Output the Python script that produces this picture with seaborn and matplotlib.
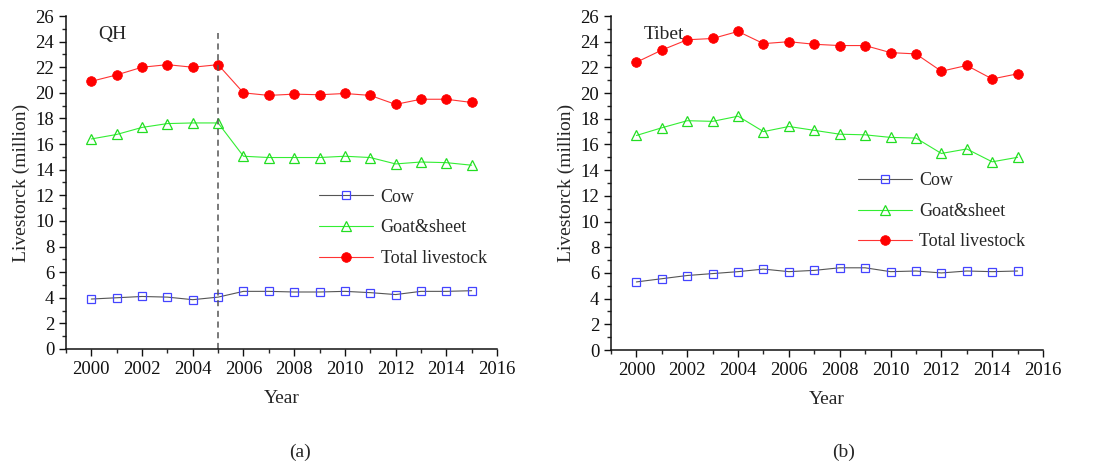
import matplotlib
matplotlib.use("Agg")
import matplotlib.pyplot as plt
import seaborn as sns
import numpy as np
from matplotlib.ticker import MultipleLocator

years = list(range(2000, 2016))

qh_cow = [3.9, 4.0, 4.1, 4.05, 3.85, 4.05, 4.5, 4.5, 4.45, 4.45, 4.5, 4.4, 4.25, 4.5, 4.5, 4.55]
qh_goat = [16.4, 16.75, 17.3, 17.6, 17.65, 17.65, 15.05, 14.95, 14.95, 14.95, 15.05, 14.95, 14.45, 14.6, 14.55, 14.35]
qh_total = [20.9, 21.4, 22.0, 22.2, 22.0, 22.2, 20.0, 19.8, 19.9, 19.85, 19.95, 19.8, 19.1, 19.5, 19.5, 19.25]

tb_cow = [5.3, 5.55, 5.8, 5.95, 6.1, 6.3, 6.1, 6.2, 6.4, 6.4, 6.1, 6.15, 6.0, 6.15, 6.1, 6.15]
tb_goat = [16.7, 17.3, 17.85, 17.8, 18.2, 17.0, 17.4, 17.1, 16.8, 16.75, 16.55, 16.5, 15.3, 15.65, 14.65, 15.0]
tb_total = [22.4, 23.35, 24.15, 24.25, 24.8, 23.85, 24.0, 23.8, 23.7, 23.7, 23.15, 23.05, 21.7, 22.15, 21.1, 21.5]

series_names = ["Cow", "Goat&sheet", "Total livestock"]
panel_titles = ["QH", "Tibet"]
panel_labels = ["(a)", "(b)"]
break_year = 2005

sns.set_style("ticks")
plt.rcParams['font.family'] = ['Liberation Serif', 'DejaVu Serif']

fig = plt.figure(figsize=(10.94, 4.68), dpi=100)
ax1 = fig.add_axes([0.0603, 0.2543, 0.394, 0.7115])
ax2 = fig.add_axes([0.5585, 0.2521, 0.3949, 0.7137])

def draw(ax, cow, goat, total, title, legend_anchor):
    sns.lineplot(x=years, y=cow, ax=ax, color="#555555", lw=0.8, marker="s",
                 markersize=5.5, markerfacecolor="none", markeredgecolor="#4444ff",
                 markeredgewidth=0.9, label=series_names[0])
    sns.lineplot(x=years, y=goat, ax=ax, color="#33ee33", lw=0.8, marker="^",
                 markersize=7.5, markerfacecolor="none", markeredgecolor="#22dd22",
                 markeredgewidth=0.9, label=series_names[1])
    sns.lineplot(x=years, y=total, ax=ax, color="#ff3333", lw=0.8, marker="o",
                 markersize=7, markerfacecolor="#ff0000", markeredgecolor="#ff0000",
                 markeredgewidth=0.5, label=series_names[2])
    ax.set_xlim(1999, 2016)
    ax.set_ylim(0, 26)
    ax.xaxis.set_major_locator(MultipleLocator(2))
    ax.xaxis.set_minor_locator(MultipleLocator(1))
    ax.yaxis.set_major_locator(MultipleLocator(2))
    ax.yaxis.set_minor_locator(MultipleLocator(1))
    ax.tick_params(which="major", direction="out", length=5, width=1, labelsize=13.5, colors="#111111")
    ax.tick_params(which="minor", direction="out", length=3, width=1)
    for s in ["left", "bottom"]:
        ax.spines[s].set_linewidth(1.1)
        ax.spines[s].set_color("#111111")
    sns.despine(ax=ax)
    ax.set_xlabel("Year", fontsize=14, labelpad=9)
    ax.set_ylabel("Livestorck (million)", fontsize=14, labelpad=4)
    ax.text(0.075, 0.945, title, transform=ax.transAxes, fontsize=14, va="center", ha="left")
    ax.legend(loc="center left", bbox_to_anchor=legend_anchor, frameon=False,
              fontsize=13, handlelength=3.0, handletextpad=0.4, labelspacing=0.75,
              borderaxespad=0)

draw(ax1, qh_cow, qh_goat, qh_total, panel_titles[0], (0.571, 0.364))
ax1.axvline(break_year, ymin=0, ymax=24.7 / 26, color="#555555", ls=(0, (4, 3)), lw=1.1)
draw(ax2, tb_cow, tb_goat, tb_total, panel_titles[1], (0.554, 0.415))

fig.text(0.274, 0.034, panel_labels[0], fontsize=14, ha="center", va="center")
fig.text(0.771, 0.034, panel_labels[1], fontsize=14, ha="center", va="center")

fig.savefig("out.png", dpi=100, facecolor="white")
